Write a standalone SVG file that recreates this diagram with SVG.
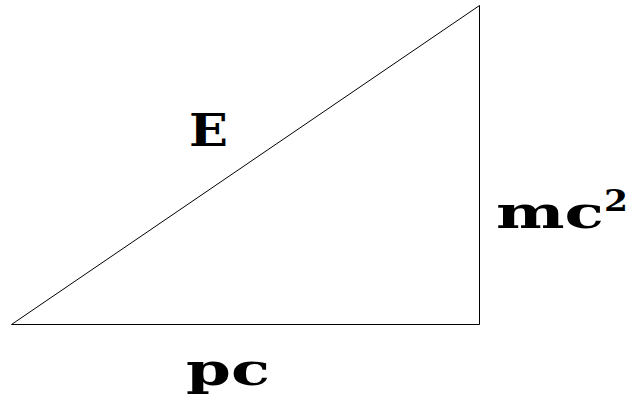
<svg xmlns="http://www.w3.org/2000/svg" width="629" height="395" viewBox="0 0 629 395">
<style>
.lbl{font-family:"DejaVu Serif","Liberation Serif",serif;font-weight:bold;font-size:44px;fill:#000}
.sup{font-size:30px}
.edge{fill:none;stroke:#000;stroke-width:1}
</style>
<rect width="629" height="395" fill="#fff"/>
<g id="connectors">
<path class="edge" d="M11.5 324.5 L479.5 324.5 L479.5 5.5 Z"/>
</g>
<g id="label-E"><text class="lbl" x="189" y="146" textLength="39" lengthAdjust="spacingAndGlyphs">E</text></g>
<g id="label-mc2"><text class="lbl" x="496" y="228" textLength="108" lengthAdjust="spacingAndGlyphs">mc</text><text class="lbl sup" x="604" y="211" textLength="24" lengthAdjust="spacingAndGlyphs">2</text></g>
<g id="label-pc"><text class="lbl" x="186" y="385" textLength="84" lengthAdjust="spacingAndGlyphs">pc</text></g>
</svg>
